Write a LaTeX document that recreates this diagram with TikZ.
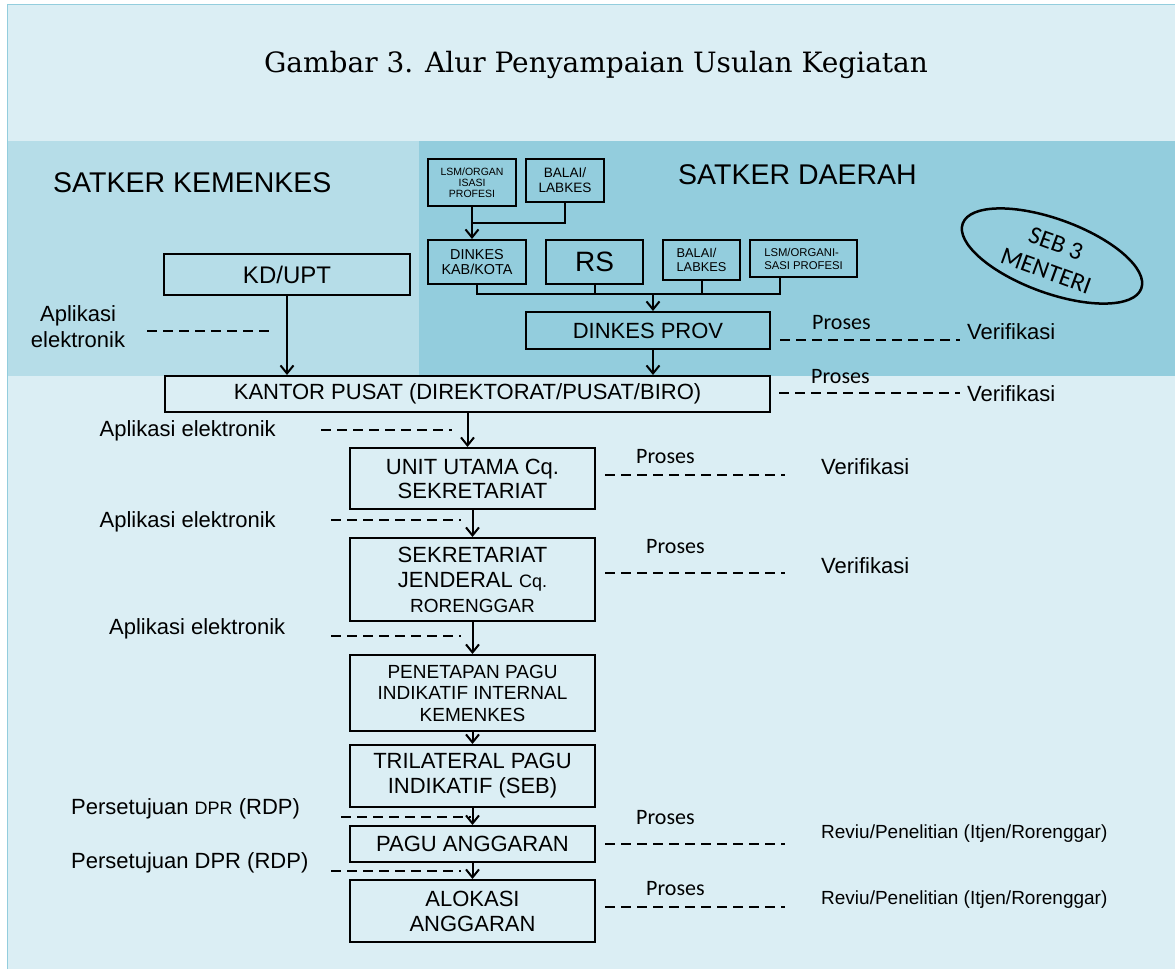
\documentclass[tikz,border=0pt]{standalone}
\usepackage{fontspec}
\setmainfont{Liberation Sans}
\newfontfamily\calibri{Carlito}
\newfontfamily\titlefont{DejaVu Serif}
\usetikzlibrary{arrows.meta}
\newcommand\fsz[2]{\fontsize{#1}{#2}\selectfont}
\definecolor{pale}{HTML}{DBEEF4}
\definecolor{bandL}{HTML}{B6DDE8}
\definecolor{bandR}{HTML}{93CDDD}
\definecolor{edge}{HTML}{93CDDD}
\begin{document}
\begin{tikzpicture}[x=1pt,y=-1pt,
  box/.style={draw, line width=2pt, inner sep=0pt, align=center},
  flow/.style={line width=2pt, -{Straight Barb[length=8pt,width=13pt]}},
  wire/.style={line width=2pt},
  lead/.style={line width=2pt, dash pattern=on 10pt off 6pt},
  lbl/.style={inner sep=0pt, anchor=west},
  body/.style={font=\fsz{22}{26}},
  proc/.style={lbl, font=\calibri\fsz{22}{26}},
]
% page, panels and frame
\useasboundingbox (0,0) rectangle (1175,969);
\fill[white] (0,0) rectangle (1175,969);
\fill[pale] (7,4) rectangle (1175,969);
\fill[bandL] (7,141) rectangle (419,376);
\fill[bandR] (419,141) rectangle (1175,376);
\draw[edge, line width=1pt] (7,969) -- (7,4) -- (1175,4);

% heading
\node[font=\titlefont\fsz{28}{32}] (title) at (596,65) {Gambar 3. Alur Penyampaian Usulan Kegiatan};
\node[lbl, font=\fsz{28.5}{32}] (kemenkes) at (53,183) {SATKER KEMENKES};
\node[lbl, font=\fsz{28.5}{32}] (daerah) at (678,175) {SATKER DAERAH};

% regional units
\node[box, minimum width=88, minimum height=47, font=\fsz{10.5}{11}] (lsmA) at (472,182.5) {LSM/ORGAN\\ISASI\\PROFESI};
\node[box, minimum width=78, minimum height=43, font=\fsz{13.6}{15}] (balaiA) at (565,180.5) {BALAI/\\LABKES};
\node[box, minimum width=98, minimum height=44, font=\fsz{14.4}{15}] (dkab) at (477,262) {DINKES\\KAB/KOTA};
\node[box, minimum width=97, minimum height=44, font=\fsz{28}{30}] (rs) at (594.5,262) {RS};
\node[box, minimum width=77, minimum height=40, font=\fsz{12.8}{14}, align=left] (balaiB) at (701.5,260) {BALAI/\\LABKES};
\node[box, minimum width=107, minimum height=37, font=\fsz{11.3}{13}, align=left] (lsmB) at (803.5,258.5) {LSM/ORGANI-\\SASI PROFESI};
\node[box, body, minimum width=244, minimum height=37] (dprov) at (648,330.5) {DINKES PROV};

% ministry units
\node[box, minimum width=246, minimum height=41, font=\fsz{24}{28}] (kdupt) at (287,274.5) {KD/UPT};
\node[box, body, minimum width=605, minimum height=36] (kantor) at (467.5,394) {KANTOR PUSAT (DIREKTORAT/PUSAT/BIRO)};
\node[box, font=\fsz{22}{24}, minimum width=245, minimum height=61] (unit) at (472.5,478.5) {UNIT UTAMA Cq.\\SEKRETARIAT};
\node[box, font=\fsz{22}{25}, minimum width=245, minimum height=83] (sekjen) at (472.5,579.5) {SEKRETARIAT\\JENDERAL {\fsz{18}{25}Cq.}\\{\fsz{19}{22}RORENGGAR}};
\node[box, font=\fsz{19}{21.5}, minimum width=245, minimum height=76] (penetapan) at (472.5,693) {PENETAPAN PAGU\\INDIKATIF INTERNAL\\KEMENKES};
\node[box, font=\fsz{22}{25}, minimum width=245, minimum height=62] (tril) at (472.5,776) {TRILATERAL PAGU\\INDIKATIF (SEB)};
\node[box, body, minimum width=245, minimum height=36] (pagu) at (472.5,844) {PAGU ANGGARAN};
\node[box, font=\fsz{22}{25}, minimum width=245, minimum height=62] (alokasi) at (472.5,911) {ALOKASI\\ANGGARAN};

% SEB stamp
\draw[line width=2.5pt, rotate around={-20:(1052,256)}] (1052,256) ellipse [x radius=95, y radius=37];
\node[font=\calibri\fsz{25}{29}, rotate=-20, align=center, inner sep=0pt] (seb) at (1051,257) {SEB 3\\MENTERI};

% regional flow
\coordinate (jA) at (472,223);
\draw[wire] (lsmA.south) -- (jA) -| (balaiA.south);
\draw[flow] (jA) -- (jA |- dkab.north);
\coordinate (bus) at (0,294);
\coordinate (lsmBdrop) at ([xshift=-24pt]lsmB.south);
\draw[wire] (dkab.south) |- (lsmBdrop |- bus) -- (lsmBdrop);
\draw[wire] (rs.south) -- (rs.south |- bus);
\draw[wire] (balaiB.south) -- (balaiB.south |- bus);
\coordinate (dprovIn) at ([xshift=5pt]dprov.north);
\coordinate (dprovOut) at ([xshift=5pt]dprov.south);
\draw[flow] (dprovIn |- bus) -- (dprovIn);
\draw[flow] (dprovOut) -- (dprovOut |- kantor.north);

% main flow
\draw[flow] (kdupt.south) -- (kdupt.south |- kantor.north);
\draw[flow] (kantor.south) -- (kantor.south |- unit.north);
\draw[flow] (unit.south) -- (sekjen.north);
\draw[flow] (sekjen.south) -- (penetapan.north);
\draw[flow] (penetapan.south) -- (tril.north);
\draw[flow] (tril.south) -- (pagu.north);
\draw[flow] (pagu.south) -- (alokasi.north);

% left-hand notes
\node[body, inner sep=0pt, align=center] (aplA) at (78,327) {Aplikasi\\elektronik};
\coordinate (aplAa) at (147,331); \coordinate (aplAb) at (275,331);
\draw[lead] (aplAa) -- (aplAb);
\node[lbl, body] (aplB) at (99.5,431) {Aplikasi elektronik};
\coordinate (aplBa) at (321,430); \coordinate (aplBb) at (452,430);
\draw[lead] (aplBa) -- (aplBb);
\node[lbl, body] (aplC) at (99.5,522) {Aplikasi elektronik};
\coordinate (aplCa) at (331,520); \coordinate (aplCb) at (461,520);
\draw[lead] (aplCa) -- (aplCb);
\node[lbl, body] (aplD) at (109,629) {Aplikasi elektronik};
\coordinate (aplDa) at (331,636); \coordinate (aplDb) at (461,636);
\draw[lead] (aplDa) -- (aplDb);
\node[lbl, body] (dprA) at (71,809) {Persetujuan {\fsz{18}{26}DPR} (RDP)};
\coordinate (dprAa) at (341,817); \coordinate (dprAb) at (471,817);
\draw[lead] (dprAa) -- (dprAb);
\node[lbl, body] (dprB) at (71,863) {Persetujuan DPR (RDP)};
\coordinate (dprBa) at (331,871); \coordinate (dprBb) at (461,871);
\draw[lead] (dprBa) -- (dprBb);

% right-hand notes
\node[proc] (prA) at (812,323) {Proses};
\coordinate (prAa) at (780,340); \coordinate (prAb) at (960,340);
\draw[lead] (prAa) -- (prAb);
\node[lbl, body] (verA) at (967,332) {Verifikasi};

\node[proc] (prB) at (811,377) {Proses};
\coordinate (prBa) at (779,393); \coordinate (prBb) at (960,393);
\draw[lead] (prBa) -- (prBb);
\node[lbl, body] (verB) at (967,394) {Verifikasi};

\node[proc] (prC) at (636,457) {Proses};
\coordinate (prCa) at (605,475); \coordinate (prCb) at (785,475);
\draw[lead] (prCa) -- (prCb);
\node[lbl, body] (verC) at (821,467) {Verifikasi};

\node[proc] (prD) at (646,547) {Proses};
\coordinate (prDa) at (605,573); \coordinate (prDb) at (785,573);
\draw[lead] (prDa) -- (prDb);
\node[lbl, body] (verD) at (821,566) {Verifikasi};

\node[proc] (prE) at (636,818) {Proses};
\coordinate (prEa) at (605,844); \coordinate (prEb) at (785,844);
\draw[lead] (prEa) -- (prEb);
\node[lbl, font=\fsz{19}{22}] (revE) at (821,834) {Reviu/Penelitian (Itjen/Rorenggar)};

\node[proc] (prF) at (646,889) {Proses};
\coordinate (prFa) at (605,907); \coordinate (prFb) at (785,907);
\draw[lead] (prFa) -- (prFb);
\node[lbl, font=\fsz{19}{22}] (revF) at (821,900) {Reviu/Penelitian (Itjen/Rorenggar)};
\end{tikzpicture}
\end{document}
